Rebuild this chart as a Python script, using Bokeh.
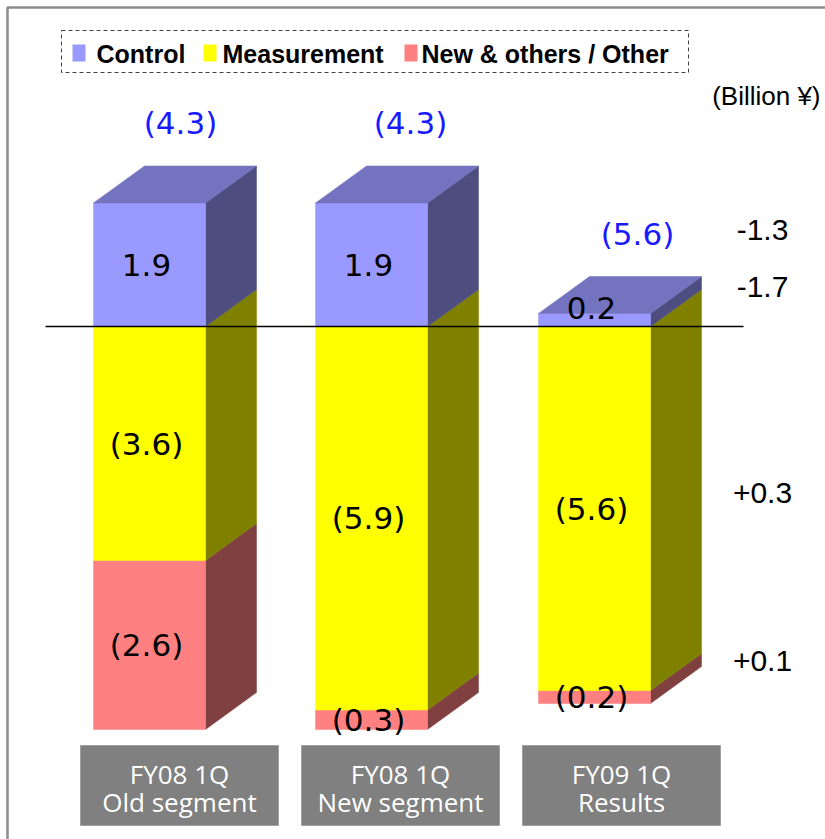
from bokeh.plotting import figure
from bokeh.models import Range1d, ColumnDataSource
from bokeh.core.properties import value
from bokeh.embed import file_html
from bokeh.resources import INLINE

# ---------------- data ----------------
cat_line1 = ["FY08 1Q", "FY08 1Q", "FY09 1Q"]
cat_line2 = ["Old segment", "New segment", "Results"]
control = [1.9, 1.9, 0.2]
measurement = [-3.6, -5.9, -5.6]
new_other = [-2.6, -0.3, -0.2]
totals = [-4.3, -4.3, -5.6]
changes = ["-1.3", "-1.7", "+0.3", "+0.1"]
legend_labels = ["Control", "Measurement", "New & others / Other"]

# ---------------- layout helpers ----------------
W, H = 825, 839
ZERO_PX, PX = 326.0, 65.0


def Y(py):
    return (ZERO_PX - py) / PX


bar_left = [93, 315, 538]
bar_w = 112
DX = 51
DYU = 37 / PX

cols = {
    "control": ("#9999ff", "#4d4d80", "#7373bf"),
    "meas": ("#ffff00", "#808000", "#bfbf00"),
    "new": ("#ff8080", "#804040", "#bf6060"),
}

p = figure(width=W, height=H, x_range=Range1d(0, W), y_range=Range1d(Y(H), Y(0)),
           output_backend="svg", toolbar_location=None, x_axis_type=None, y_axis_type=None,
           min_border=0, min_border_left=0, min_border_right=0, min_border_top=0, min_border_bottom=0)
p.grid.visible = False
p.outline_line_color = None
p.background_fill_color = "white"

# frame
p.quad(left=[7], right=[835], top=[Y(7)], bottom=[Y(850)], fill_color=None,
       line_color="#8c8c8c", line_width=2.5)

xs, ys, fc = [], [], []


def add(poly_x, poly_y, c):
    xs.append(poly_x)
    ys.append(poly_y)
    fc.append(c)


for i in range(3):
    x0 = bar_left[i]
    x1 = x0 + bar_w
    m = measurement[i]
    n = new_other[i]
    c = control[i]
    segs = [(m + n, m, "new"), (m, 0.0, "meas"), (0.0, c, "control")]
    for b, t, key in segs:
        front, side, top = cols[key]
        add([x1, x1 + DX, x1 + DX, x1], [b, b + DYU, t + DYU, t], side)
        add([x0, x1, x1, x0], [b, b, t, t], front)
    front, side, top = cols["control"]
    add([x0, x1, x1 + DX, x0 + DX], [c, c, c + DYU, c + DYU], top)

src = ColumnDataSource(dict(xs=xs, ys=ys, fc=fc))
p.patches("xs", "ys", source=src, fill_color="fc", line_color="fc", line_width=0.5)

# zero line
p.line([45, 743], [0, 0], line_color="black", line_width=1.5)

# segment labels
lx, ly, lt = [], [], []
for i in range(3):
    cx = bar_left[i] + bar_w / 2 - 3
    c, m, n = control[i], measurement[i], new_other[i]
    lx += [cx, cx, cx]
    ly += [max(c / 2, 0.29), m / 2, m + n / 2]
    lt += [f"{c:.1f}", f"({-m:.1f})", f"({-n:.1f})"]
p.text(x=lx, y=ly, text=lt, text_font=value("DejaVu Sans"), text_font_size="31px",
       text_align="center", text_baseline="middle", text_color="black")

# totals (blue)
tx = [bar_left[i] + bar_w / 2 + off for i, off in enumerate([31, 39, 43])]
ty = [control[i] + DYU + Y(0) - Y(43) for i in range(3)]
p.text(x=tx, y=ty, text=[f"({-t:.1f})" for t in totals], text_font=value("DejaVu Sans"),
       text_font_size="31px", text_align="center", text_baseline="middle", text_color="#1a1aff")

# change annotations
p.text(x=[762] * 4, y=[Y(229), Y(286), Y(492), Y(660)], text=changes,
       text_font=value("Liberation Sans"), text_font_size="30px",
       text_align="center", text_baseline="middle", text_color="black")

p.text(x=[820], y=[Y(95)], text=["(Billion ¥)"], text_font=value("Liberation Sans"),
       text_font_size="26px", text_align="right", text_baseline="middle", text_color="black")

# legend
p.quad(left=[61], right=[688], top=[Y(30)], bottom=[Y(72)], fill_color=None,
       line_color="#404040", line_width=1, line_dash="4 3")
sq_left = [72, 203, 404]
txt_left = [96, 222, 421]
p.quad(left=sq_left, right=[s + 13 for s in sq_left], top=[Y(44)] * 3, bottom=[Y(61)] * 3,
       fill_color=[cols["control"][0], cols["meas"][0], cols["new"][0]], line_color=None)
p.text(x=txt_left, y=[Y(53)] * 3, text=legend_labels, text_font=value("Liberation Sans"),
       text_font_size="25px", text_font_style="bold", text_align="left", text_baseline="middle",
       text_color="black")

# category boxes
box_left = [80, 301, 522]
box_w = 198
p.quad(left=box_left, right=[b + box_w for b in box_left], top=[Y(745)] * 3, bottom=[Y(825)] * 3,
       fill_color="#808080", line_color="#a0a0a0", line_width=1)
bc = [b + box_w / 2 for b in box_left]
p.text(x=bc, y=[Y(773)] * 3, text=cat_line1, text_font=value("Open Sans"), text_font_size="26px",
       text_align="center", text_baseline="middle", text_color="white")
p.text(x=bc, y=[Y(801)] * 3, text=cat_line2, text_font=value("Open Sans"), text_font_size="26px",
       text_align="center", text_baseline="middle", text_color="white")

open("out.html", "w").write(file_html(p, INLINE))
